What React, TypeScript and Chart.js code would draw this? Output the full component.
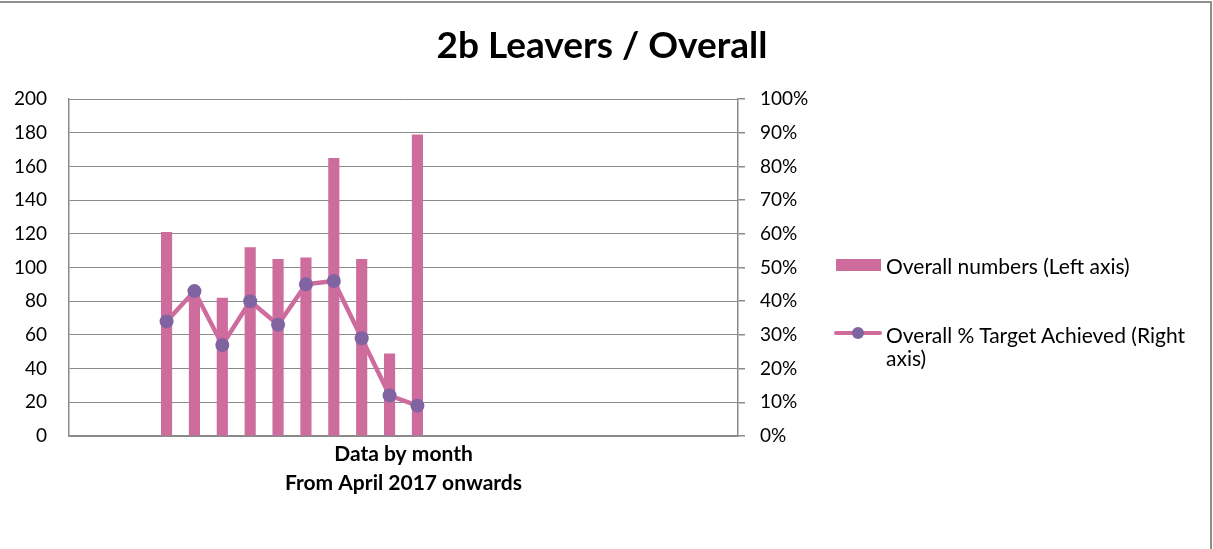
import React, { useEffect, useRef } from "react";
import { Chart, registerables } from "chart.js";

Chart.register(...registerables);

// ---- Data ----
const chartTitle = "2b Leavers / Overall";
const xAxisTitle = ["Data by month", "From April 2017 onwards"];

const months = [
  "Jan 2017", "Feb 2017", "Mar 2017", "Apr 2017", "May 2017", "Jun 2017",
  "Jul 2017", "Aug 2017", "Sep 2017", "Oct 2017", "Nov 2017", "Dec 2017",
  "Jan 2018", "Feb 2018", "Mar 2018", "Apr 2018", "May 2018", "Jun 2018",
  "Jul 2018", "Aug 2018", "Sep 2018", "Oct 2018", "Nov 2018", "Dec 2018",
];

const overallNumbers: (number | null)[] = [
  null, null, null, 121, 84, 82, 112, 105, 106, 165, 105, 49, 179,
  null, null, null, null, null, null, null, null, null, null, null,
];

const targetAchievedPct: (number | null)[] = [
  null, null, null, 34, 43, 27, 40, 33, 45, 46, 29, 12, 9,
  null, null, null, null, null, null, null, null, null, null, null,
];

const barLabel = "Overall numbers (Left axis)";
const lineLabel = "Overall % Target Achieved (Right axis)";

const leftAxisMax = 200;
const leftAxisStep = 20;
const rightAxisMax = 100;
const rightAxisStep = 10;

// ---- Styles ----
const FONT = "Lato, 'Open Sans', sans-serif";
const PINK = "#CE6C9D";
const PURPLE = "#8064A2";
const GRID = "#8A8A8A";

const titlePlugin = {
  id: "fixedTitle",
  afterDraw(chart: any) {
    const ctx = chart.ctx;
    ctx.save();
    ctx.font = `bold 37px ${FONT}`;
    ctx.fillStyle = "#000";
    ctx.textAlign = "center";
    ctx.textBaseline = "middle";
    ctx.fillText(chartTitle, 602, 46);
    ctx.restore();
  },
};

export default function App() {
  const canvasRef = useRef<HTMLCanvasElement | null>(null);

  useEffect(() => {
    document.body.style.margin = "0";
    const canvas = canvasRef.current;
    if (!canvas) return;
    const chart = new Chart(canvas, {
      type: "bar",
      data: {
        labels: months,
        datasets: [
          {
            type: "line",
            label: lineLabel,
            data: targetAchievedPct,
            yAxisID: "y1",
            borderColor: PINK,
            borderWidth: 4.5,
            pointRadius: 7,
            pointBackgroundColor: PURPLE,
            pointBorderColor: PURPLE,
            pointBorderWidth: 0,
            spanGaps: false,
            tension: 0,
            order: 0,
          } as any,
          {
            type: "bar",
            label: barLabel,
            data: overallNumbers,
            yAxisID: "y",
            backgroundColor: PINK,
            borderWidth: 0,
            categoryPercentage: 1,
            barPercentage: 0.4,
            order: 1,
          } as any,
        ],
      },
      options: {
        animation: false,
        responsive: false,
        devicePixelRatio: 1,
        layout: { padding: { left: 0, top: 99, right: 385, bottom: 0 } },
        plugins: {
          legend: { display: false },
          title: { display: false },
          tooltip: { enabled: false },
        },
        scales: {
          x: {
            type: "category",
            offset: true,
            grid: { display: false },
            border: { display: true, color: GRID, width: 1.5 },
            ticks: { display: false },
            title: {
              display: true,
              text: xAxisTitle,
              color: "#000",
              font: { family: FONT, size: 21, weight: "bold", lineHeight: 1.357 },
              padding: { top: 0, bottom: 52 },
            },
            afterFit(scale: any) {
              scale.height = 113;
            },
          },
          y: {
            position: "left",
            min: 0,
            max: leftAxisMax,
            ticks: {
              stepSize: leftAxisStep,
              color: "#000",
              font: { family: FONT, size: 19 },
              padding: 22,
            },
            grid: { color: GRID, lineWidth: 1, drawTicks: false },
            border: { display: true, color: GRID, width: 1.5 },
            afterFit(scale: any) {
              scale.width = 69;
            },
          },
          y1: {
            position: "right",
            min: 0,
            max: rightAxisMax,
            ticks: {
              stepSize: rightAxisStep,
              color: "#000",
              font: { family: FONT, size: 19 },
              padding: 15,
              callback: (v: any) => `${v}%`,
            },
            grid: {
              drawOnChartArea: false,
              drawTicks: true,
              tickLength: 7,
              color: GRID,
              tickColor: GRID,
              lineWidth: 1.5,
            },
            border: { display: true, color: GRID, width: 1.5 },
            afterFit(scale: any) {
              scale.width = 90;
            },
          },
        },
      },
      plugins: [titlePlugin],
    });
    return () => chart.destroy();
  }, []);

  const textStyle: React.CSSProperties = {
    fontFamily: FONT,
    fontSize: 21,
    color: "#000",
    lineHeight: "23px",
    whiteSpace: "nowrap",
  };

  return (
    <div style={{ position: "relative", width: 1213, height: 549, background: "#fff", overflow: "hidden" }}>
      <canvas ref={canvasRef} width={1213} height={549} style={{ display: "block" }} />
      <div
        style={{
          position: "absolute",
          left: 0,
          top: 1,
          width: 1210,
          height: 560,
          borderTop: "2px solid #8F8F8F",
          borderRight: "2px solid #8F8F8F",
          pointerEvents: "none",
        }}
      />
      {/* Legend */}
      <div style={{ position: "absolute", left: 836, top: 259, width: 45, height: 12, background: PINK }} />
      <div style={{ ...textStyle, position: "absolute", left: 886, top: 253.5 }}>{barLabel}</div>
      <div style={{ position: "absolute", left: 834, top: 331, width: 48, height: 4, background: PINK, borderRadius: 2 }} />
      <div style={{ position: "absolute", left: 852, top: 327, width: 12, height: 12, background: PURPLE, borderRadius: "50%" }} />
      <div style={{ ...textStyle, position: "absolute", left: 886, top: 322.5 }}>
        Overall % Target Achieved (Right
        <br />
        axis)
      </div>
    </div>
  );
}
